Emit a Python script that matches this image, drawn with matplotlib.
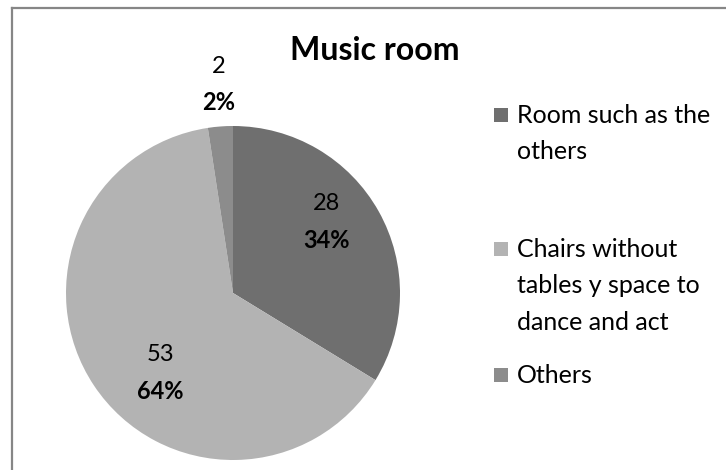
import matplotlib
matplotlib.use("Agg")
import matplotlib.pyplot as plt
from matplotlib.lines import Line2D
from matplotlib.patches import Rectangle

# ==========================================================
# Data
# ==========================================================

categories = [
    "Room such as the\nothers",
    "Chairs without\ntables y space to\ndance and act",
    "Others",
]
counts = [28, 53, 2]
percents = ["34%", "64%", "2%"]
colors = ["#6f6f6f", "#b3b3b3", "#8c8c8c"]

# label block centres (data units, pie radius = 1)
label_pos = [(0.557, 0.425), (-0.437, -0.479), (-0.084, 1.246)]

plt.rcParams["font.family"] = ["Lato", "DejaVu Sans"]

W, H = 726, 470
fig = plt.figure(figsize=(W / 100, H / 100), dpi=100)
fig.patch.set_facecolor("white")

# ==========================================================
# Pie
# ==========================================================

cx, cy, r = 233, 293, 167
ax = fig.add_axes([(cx - r) / W, (H - cy - r) / H, 2 * r / W, 2 * r / H])

ax.pie(
    counts,
    colors=colors,
    startangle=90,
    counterclock=False,
    radius=1,
    wedgeprops=dict(linewidth=0),
)
ax.set_xlim(-1, 1)
ax.set_ylim(-1, 1)
ax.set_aspect("equal")
ax.axis("off")

gap = 0.108
for (x, y), n, p in zip(label_pos, counts, percents):
    ax.text(x, y + gap, str(n), ha="center", va="center",
            fontsize=17, color="#000000", clip_on=False)
    ax.text(x, y - gap, p, ha="center", va="center",
            fontsize=17, fontweight="bold", color="#000000", clip_on=False)

# ==========================================================
# Title
# ==========================================================

fig.text(375 / W, 1 - 51 / H, "Music room", ha="center", va="center",
         fontsize=23, fontweight="bold")

# ==========================================================
# Legend (drawn by hand to match spacing)
# ==========================================================

legend_y = [115, 249, 375]
for lab, col, y in zip(categories, colors, legend_y):
    fig.patches.append(Rectangle((494 / W, 1 - (y + 7) / H), 14 / W, 14 / H,
                                 transform=fig.transFigure, facecolor=col,
                                 edgecolor="none"))
    fig.text(517 / W, 1 - (y - 11) / H, lab, ha="left", va="top",
             fontsize=18, linespacing=1.7)

# ==========================================================
# Frame (top and left only visible)
# ==========================================================

fig.add_artist(Line2D([12 / W, 1], [1 - 7.5 / H, 1 - 7.5 / H],
                      transform=fig.transFigure, color="#868686", lw=1.6))
fig.add_artist(Line2D([12 / W, 12 / W], [1 - 7.5 / H, 0],
                      transform=fig.transFigure, color="#868686", lw=1.6))

fig.savefig("out.png", dpi=100, facecolor="white")
